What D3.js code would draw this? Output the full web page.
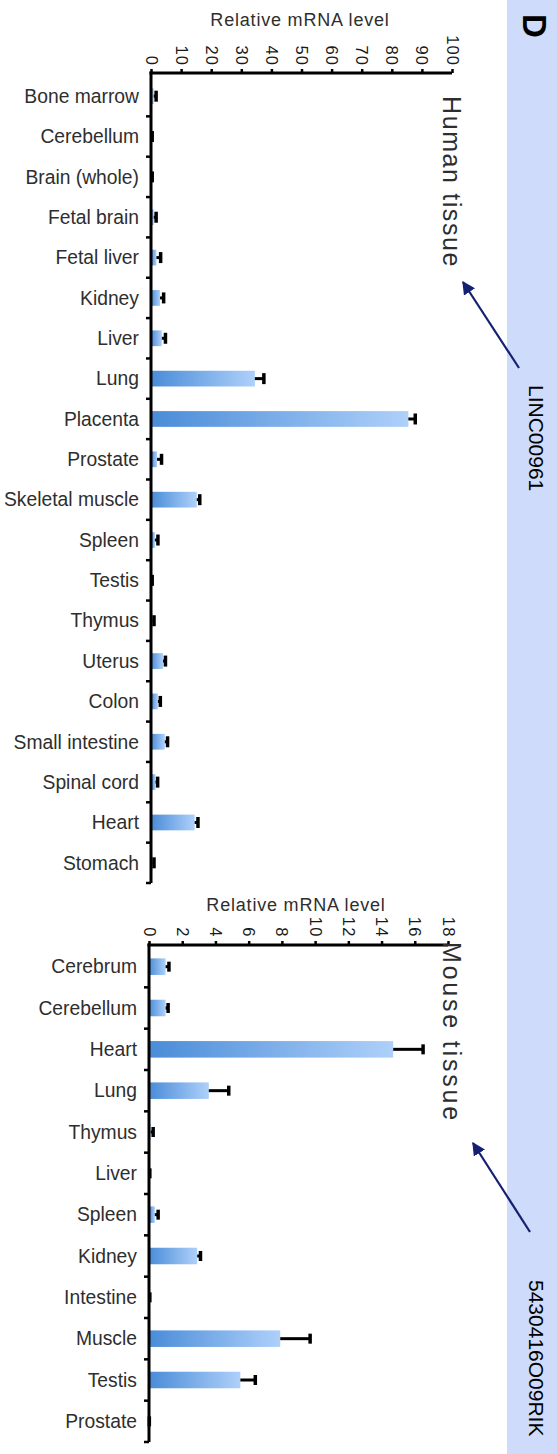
<!DOCTYPE html>
<html>
<head>
<meta charset="utf-8">
<script src="https://cdn.jsdelivr.net/npm/d3@7"></script>
<style>
  html, body { margin: 0; padding: 0; background: #fff; }
  svg { display: block; }
  text { font-family: "Liberation Sans", Arial, Helvetica, sans-serif; }
</style>
</head>
<body>
<svg id="chart" width="557" height="1454"></svg>
<script>
// ---------- DATA ----------
const humanCats = ["Bone marrow", "Cerebellum", "Brain (whole)", "Fetal brain", "Fetal liver", "Kidney", "Liver", "Lung", "Placenta", "Prostate", "Skeletal muscle", "Spleen", "Testis", "Thymus", "Uterus", "Colon", "Small intestine", "Spinal cord", "Heart", "Stomach"];
const humanVals = [0.9, 0.2, 0.2, 0.9, 1.8, 3.0, 3.6, 34.5, 85.5, 2.0, 15.2, 1.3, 0.2, 0.5, 4.0, 2.3, 4.6, 1.5, 14.5, 0.5];
const humanErr  = [0.8, 0.2, 0.2, 0.8, 1.4, 1.2, 1.2, 3.0, 2.3, 1.5, 1.0, 1.0, 0.2, 0.5, 0.8, 0.8, 0.9, 0.7, 1.1, 0.5];
const humanTicks = [0, 10, 20, 30, 40, 50, 60, 70, 80, 90, 100];

const mouseCats = ["Cerebrum", "Cerebellum", "Heart", "Lung", "Thymus", "Liver", "Spleen", "Kidney", "Intestine", "Muscle", "Testis", "Prostate"];
const mouseVals = [1.0, 1.0, 14.7, 3.6, 0.1, 0.03, 0.35, 2.9, 0.03, 7.9, 5.5, 0.01];
const mouseErr  = [0.2, 0.15, 1.8, 1.2, 0.15, 0.02, 0.2, 0.2, 0.02, 1.8, 0.9, 0.01];
const mouseTicks = [0, 2, 4, 6, 8, 10, 12, 14, 16, 18];

const axisTitle = "Relative mRNA level";
const panelLetter = "D";

// ---------- DRAW ----------
const svg = d3.select("#chart");
const defs = svg.append("defs");

const grad = defs.append("linearGradient").attr("id", "barGrad")
  .attr("x1", "0").attr("x2", "1").attr("y1", "0").attr("y2", "0");
grad.append("stop").attr("offset", "0%").attr("stop-color", "#4a8cd8");
grad.append("stop").attr("offset", "100%").attr("stop-color", "#aed0fa");

defs.append("marker").attr("id", "arrowHead")
  .attr("viewBox", "0 0 10 10").attr("refX", 9).attr("refY", 5)
  .attr("markerWidth", 6).attr("markerHeight", 6).attr("orient", "auto")
  .attr("markerUnits", "strokeWidth")
  .append("path").attr("d", "M0,0 L10,5 L0,10 Z").attr("fill", "#142070");

// right side panel
svg.append("rect").attr("x", 507).attr("y", 0).attr("width", 50).attr("height", 1454)
  .attr("fill", "#cedbfa");

function drawChart(cfg) {
  const g = svg.append("g");
  const x = d3.scaleLinear().domain(cfg.domain).range(cfg.xRange);
  const y = d3.scaleBand().domain(cfg.cats).range(cfg.yRange)
    .paddingInner(cfg.pad).paddingOuter(cfg.pad / 2);
  const x0 = x(0);
  const axisY = cfg.axisY;

  // bars
  g.selectAll("rect.bar").data(cfg.cats).join("rect").attr("class", "bar")
    .attr("x", x0)
    .attr("y", d => y(d))
    .attr("width", (d, i) => Math.max(0, x(cfg.vals[i]) - x0))
    .attr("height", y.bandwidth())
    .attr("fill", "url(#barGrad)");

  // error bars
  const eb = g.append("g").attr("stroke", "#000");
  cfg.cats.forEach((c, i) => {
    const cy = y(c) + y.bandwidth() / 2;
    const xa = x(cfg.vals[i]), xb = x(cfg.vals[i] + cfg.err[i]);
    eb.append("line").attr("x1", xa).attr("x2", xb).attr("y1", cy).attr("y2", cy)
      .attr("stroke-width", 3);
    eb.append("line").attr("x1", xb).attr("x2", xb)
      .attr("y1", cy - cfg.cap / 2).attr("y2", cy + cfg.cap / 2)
      .attr("stroke-width", 3.5);
  });

  // value axis (top)
  const ax = d3.axisTop(x).tickValues(cfg.ticks).tickSize(4).tickSizeOuter(0).tickFormat(d3.format("d"));
  const axG = g.append("g").attr("transform", `translate(0,${axisY})`).call(ax);
  axG.select(".domain").attr("stroke", "#000").attr("stroke-width", 3)
    .attr("d", `M${x0 - 1.5},0H${x(cfg.domain[1])}`);
  axG.selectAll(".tick line").attr("stroke", "#000").attr("stroke-width", 2.5);
  axG.selectAll(".tick text")
    .attr("transform", "translate(0,-7) rotate(90)")
    .attr("x", 0).attr("y", 0).attr("dy", "0.36em")
    .attr("text-anchor", "end")
    .attr("font-size", cfg.tickFont).attr("letter-spacing", cfg.tickSpacing)
    .attr("fill", "#1a1a1a");

  // category axis (left)
  const cats = g.append("g");
  cats.append("line").attr("x1", x0).attr("x2", x0)
    .attr("y1", axisY - 1.5).attr("y2", cfg.yRange[1])
    .attr("stroke", "#000").attr("stroke-width", 3);
  const step = y.step();
  const bounds = cfg.cats.map(c => y(c) + y.bandwidth() + (step - y.bandwidth()) / 2);
  cats.selectAll("line.tk").data(bounds).join("line").attr("class", "tk")
    .attr("x1", x0 - 5).attr("x2", x0).attr("y1", d => d).attr("y2", d => d)
    .attr("stroke", "#000").attr("stroke-width", 2.5);
  cats.selectAll("text").data(cfg.cats).join("text")
    .attr("x", cfg.labelX).attr("y", d => y(d) + y.bandwidth() / 2)
    .attr("dy", "0.35em").attr("text-anchor", "end")
    .attr("font-size", cfg.catFont).attr("fill", "#2e2e2e")
    .text(d => d);

  // axis title
  g.append("text").attr("x", cfg.titleX).attr("y", cfg.titleY)
    .attr("text-anchor", "middle").attr("font-size", 18).attr("letter-spacing", 0.8)
    .attr("fill", "#2e2e2e").text(axisTitle);

  // tissue label (rotated)
  g.append("text")
    .attr("transform", `translate(${cfg.tissueX},${cfg.tissueY}) rotate(90)`)
    .attr("font-size", 25).attr("letter-spacing", cfg.tissueSpacing).attr("fill", "#2e2e2e")
    .text(cfg.tissue);

  // gene label & arrow
  svg.append("text")
    .attr("transform", `translate(${cfg.geneX},${cfg.geneY}) rotate(90)`)
    .attr("font-size", 21).attr("fill", "#000").text(cfg.gene);
  svg.append("line")
    .attr("x1", cfg.arrow[0]).attr("y1", cfg.arrow[1])
    .attr("x2", cfg.arrow[2]).attr("y2", cfg.arrow[3])
    .attr("stroke", "#142070").attr("stroke-width", 2.2)
    .attr("marker-end", "url(#arrowHead)");
}

drawChart({
  cats: humanCats, vals: humanVals, err: humanErr, ticks: humanTicks,
  domain: [0, 100], xRange: [151, 452], yRange: [76, 883], pad: 0.61,
  axisY: 73, cap: 11, tickFont: 16.5, tickSpacing: 1.1, catFont: 19.3, labelX: 139,
  titleX: 300, titleY: 26,
  tissue: "Human tissue", tissueX: 443, tissueY: 96, tissueSpacing: 1.6,
  gene: "LINC00961", geneX: 529, geneY: 385,
  arrow: [519, 368, 463, 282]
});

drawChart({
  cats: mouseCats, vals: mouseVals, err: mouseErr, ticks: mouseTicks,
  domain: [0, 18], xRange: [149, 448], yRange: [946, 1442], pad: 0.6,
  axisY: 945, cap: 10, tickFont: 16.5, tickSpacing: 1.5, catFont: 19.3, labelX: 137,
  titleX: 296, titleY: 911,
  tissue: "Mouse tissue", tissueX: 443, tissueY: 942, tissueSpacing: 2.8,
  gene: "5430416O09RIK", geneX: 529, geneY: 1280,
  arrow: [530, 1232, 473, 1143]
});

// panel letter
svg.append("text")
  .attr("transform", "translate(523,14) rotate(90)")
  .attr("font-size", 33).attr("font-weight", "bold").attr("fill", "#000")
  .text(panelLetter);
</script>
</body>
</html>
